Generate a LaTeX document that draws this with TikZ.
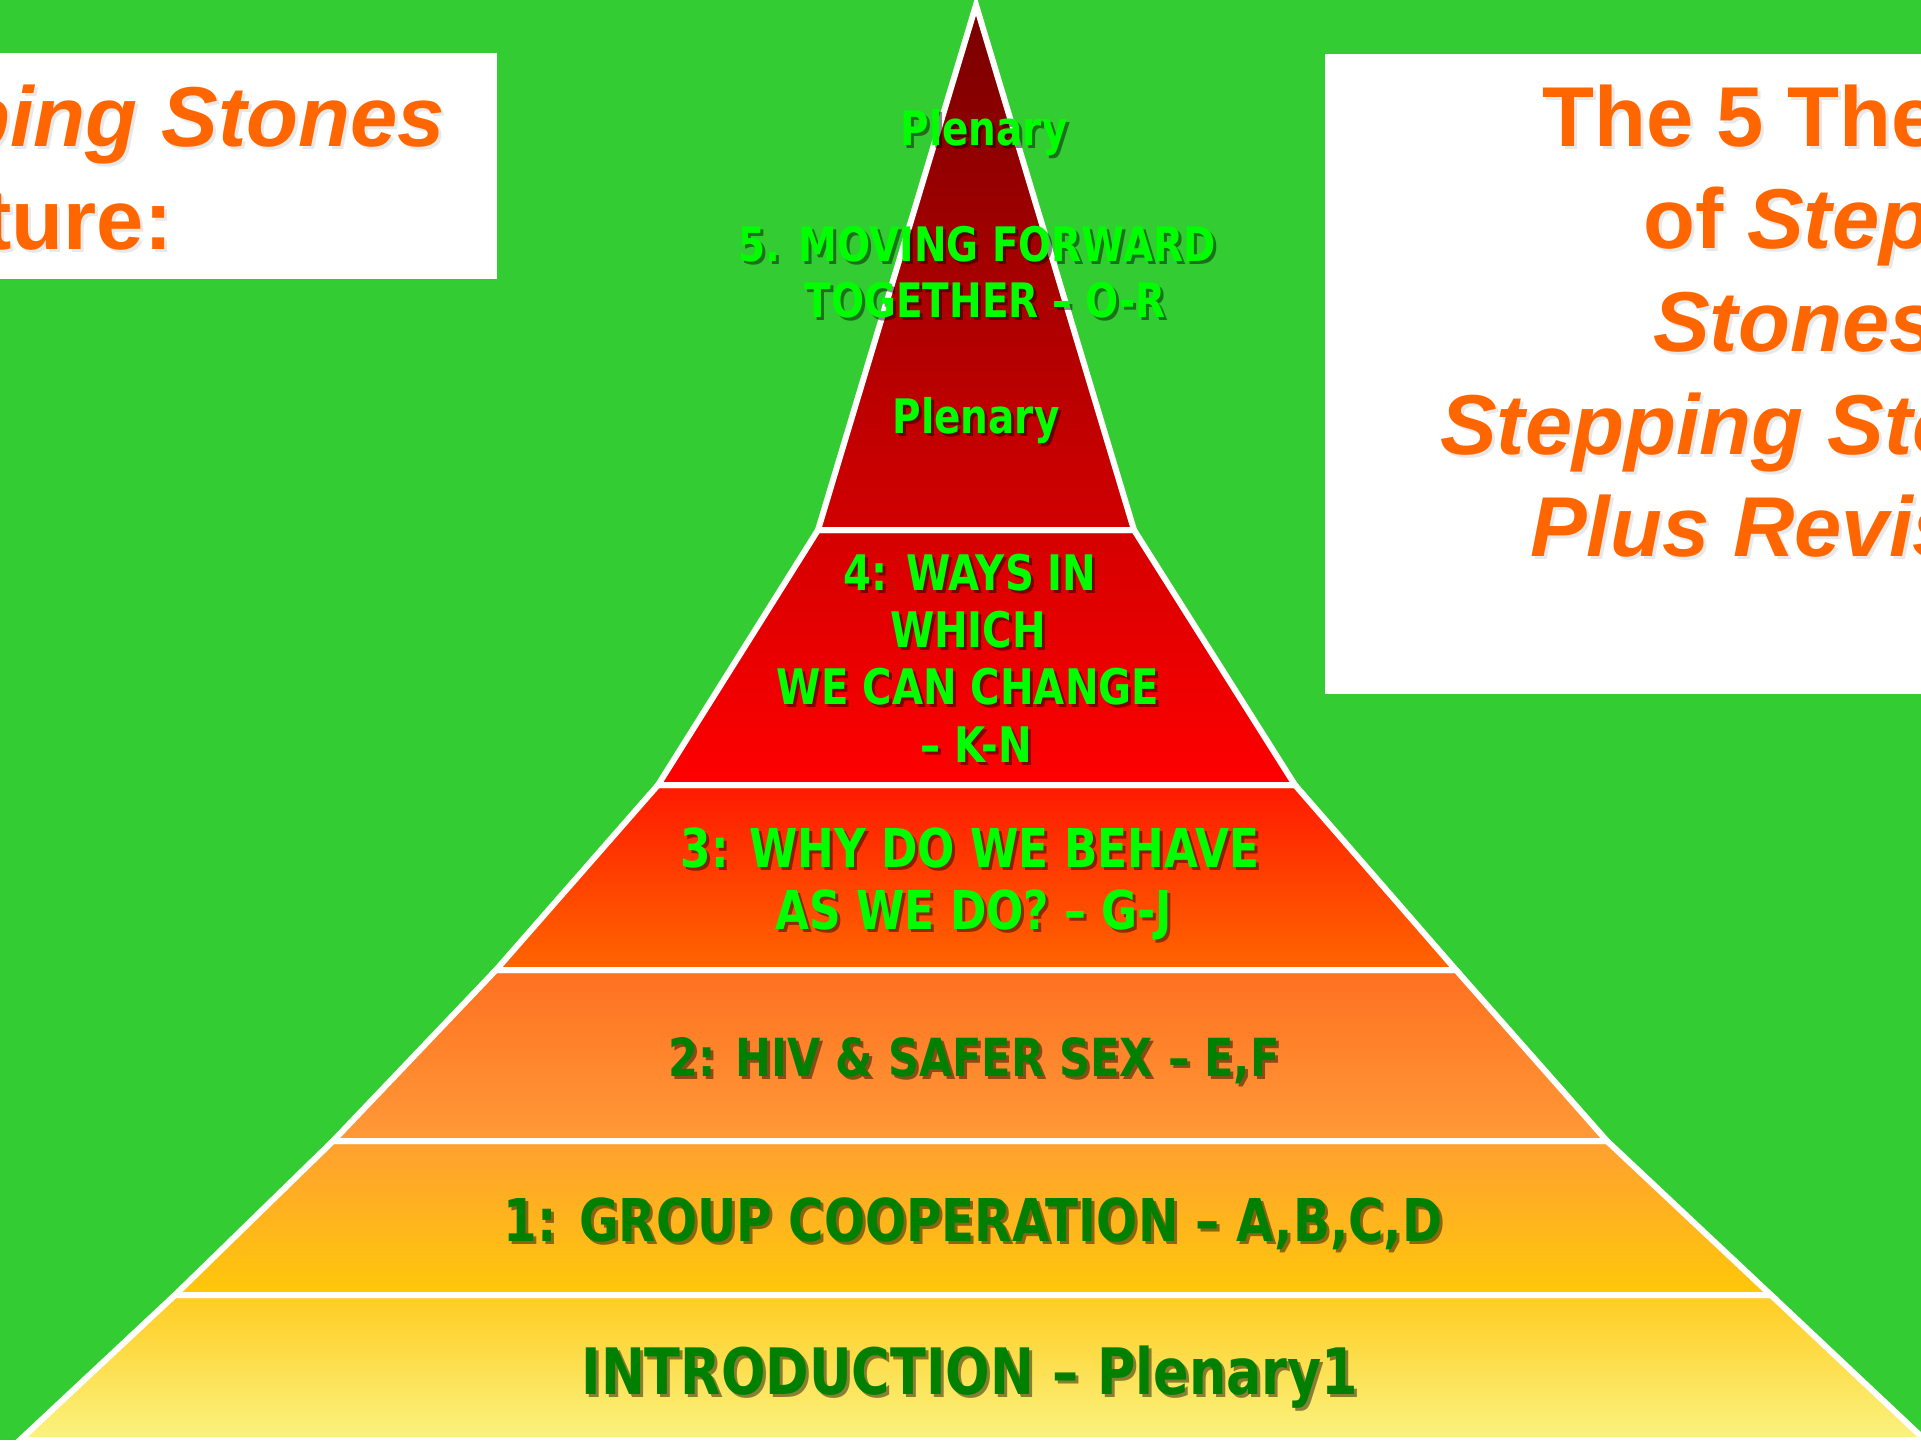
\documentclass[tikz,border=0pt]{standalone}
\usepackage{fontspec}
\setmainfont{Liberation Sans}
\newfontfamily\pyrfont[FakeStretch=0.82]{DejaVu Sans}
\definecolor{bg}{HTML}{33CC33}
\definecolor{ttl}{HTML}{FF6600}
\definecolor{lgreen}{HTML}{00FF00}
\definecolor{dgreen}{HTML}{008000}
\definecolor{t5a}{HTML}{780000}
\definecolor{t5b}{HTML}{D20000}
\definecolor{t4a}{HTML}{D40000}
\definecolor{t4b}{HTML}{FF0000}
\definecolor{t3a}{HTML}{FF1A00}
\definecolor{t3b}{HTML}{FF6600}
\definecolor{t2a}{HTML}{FF7020}
\definecolor{t2b}{HTML}{FF9A38}
\definecolor{t1a}{HTML}{FFA030}
\definecolor{t1b}{HTML}{FFC80A}
\definecolor{t0a}{HTML}{FFCC22}
\definecolor{t0b}{HTML}{FAF380}
\tikzset{
  tier/.style={draw=white, line width=6pt},
  ttltext/.style={inner sep=0pt, anchor=base west, text=ttl,
    font=\fontsize{85}{100}\selectfont\bfseries},
  ptext/.style={inner sep=0pt, anchor=base},
  lighttext/.style={ptext, text=lgreen},
  darktext/.style={ptext, text=dgreen},
  shad/.style={text=black, text opacity=0.45},
  tshad/.style={text=black, text opacity=0.09},
}
\newcommand\shnode[5][shad]{%
  \node[#4,#1,xshift=3pt,yshift=-3pt] at #3 {#5};
  \node[#4] (#2) at #3 {#5};}
\begin{document}
\begin{tikzpicture}[x=1pt,y=-1pt]
\useasboundingbox (0,0) rectangle (1921,1440);
\begin{scope}
\clip (0,0) rectangle (1921,1440);
\fill[bg] (0,0) rectangle (1921,1440);
% title boxes
\fill[white] (-20,53) rectangle (497,279);
\fill[white] (1325,54) rectangle (1945,694);
% pyramid tiers
\path[tier, top color=t0a, bottom color=t0b] (175,1295) -- (1771,1295) -- (1925,1440) -- (20,1440) -- cycle;
\path[tier, top color=t1a, bottom color=t1b] (333,1141) -- (1607,1141) -- (1771,1295) -- (175,1295) -- cycle;
\path[tier, top color=t2a, bottom color=t2b] (496,970) -- (1456,970) -- (1607,1141) -- (333,1141) -- cycle;
\path[tier, top color=t3a, bottom color=t3b] (658,785) -- (1295,785) -- (1456,970) -- (496,970) -- cycle;
\path[tier, top color=t4a, bottom color=t4b] (818,530) -- (1134,530) -- (1295,785) -- (658,785) -- cycle;
\path[tier, top color=t5a, bottom color=t5b] (976,5) -- (1134,530) -- (818,530) -- cycle;
% left title
\shnode[tshad]{ltA}{(-226,146)}{ttltext}{\itshape Stepping Stones}
\shnode[tshad]{ltB}{(-234,249)}{ttltext}{Structure:}
% right title
\shnode[tshad]{rtA}{(1542,146)}{ttltext}{The 5 Themes}
\shnode[tshad]{rtB}{(1643,248)}{ttltext}{of \itshape Stepping}
\shnode[tshad]{rtC}{(1653,351)}{ttltext}{\itshape Stones}
\shnode[tshad]{rtD}{(1440,454)}{ttltext}{\itshape Stepping Stones}
\shnode[tshad]{rtE}{(1530,556)}{ttltext}{\itshape Plus Revision}
% tier 5 text
\begin{scope}[every node/.append style={font=\pyrfont\bfseries\fontsize{47.5}{54}\selectfont}]
\shnode{p5a}{(984,145)}{lighttext}{Plenary}
\shnode{p5b}{(977,261)}{lighttext}{5. MOVING FORWARD}
\shnode{p5c}{(985,317)}{lighttext}{TOGETHER – O-R}
\shnode{p5d}{(976,433)}{lighttext}{Plenary}
\end{scope}
% tier 4 text
\begin{scope}[every node/.append style={font=\pyrfont\bfseries\fontsize{49}{55}\selectfont}]
\shnode{p4a}{(970,590)}{lighttext}{4: WAYS IN}
\shnode{p4b}{(968,647)}{lighttext}{WHICH}
\shnode{p4c}{(968,704)}{lighttext}{WE CAN CHANGE}
\shnode{p4d}{(976,762)}{lighttext}{– K-N}
\end{scope}
% tier 3 text
\begin{scope}[every node/.append style={font=\pyrfont\bfseries\fontsize{53.5}{60}\selectfont}]
\shnode{p3a}{(970,867)}{lighttext}{3: WHY DO WE BEHAVE}
\shnode{p3b}{(974,929)}{lighttext}{AS WE DO? – G-J}
\end{scope}
% tier 2 text
\shnode{p2}{(974,1076)}{darktext, font=\pyrfont\bfseries\fontsize{52.5}{58}\selectfont}{2: HIV \& SAFER SEX – E,F}
% tier 1 text
\shnode{p1}{(973,1241)}{darktext, font=\pyrfont\bfseries\fontsize{59}{65}\selectfont}{1: GROUP COOPERATION – A,B,C,D}
% introduction text
\shnode{p0}{(970,1394)}{darktext, font=\pyrfont\bfseries\fontsize{64}{70}\selectfont}{INTRODUCTION – Plenary1}
\end{scope}
\end{tikzpicture}
\end{document}
